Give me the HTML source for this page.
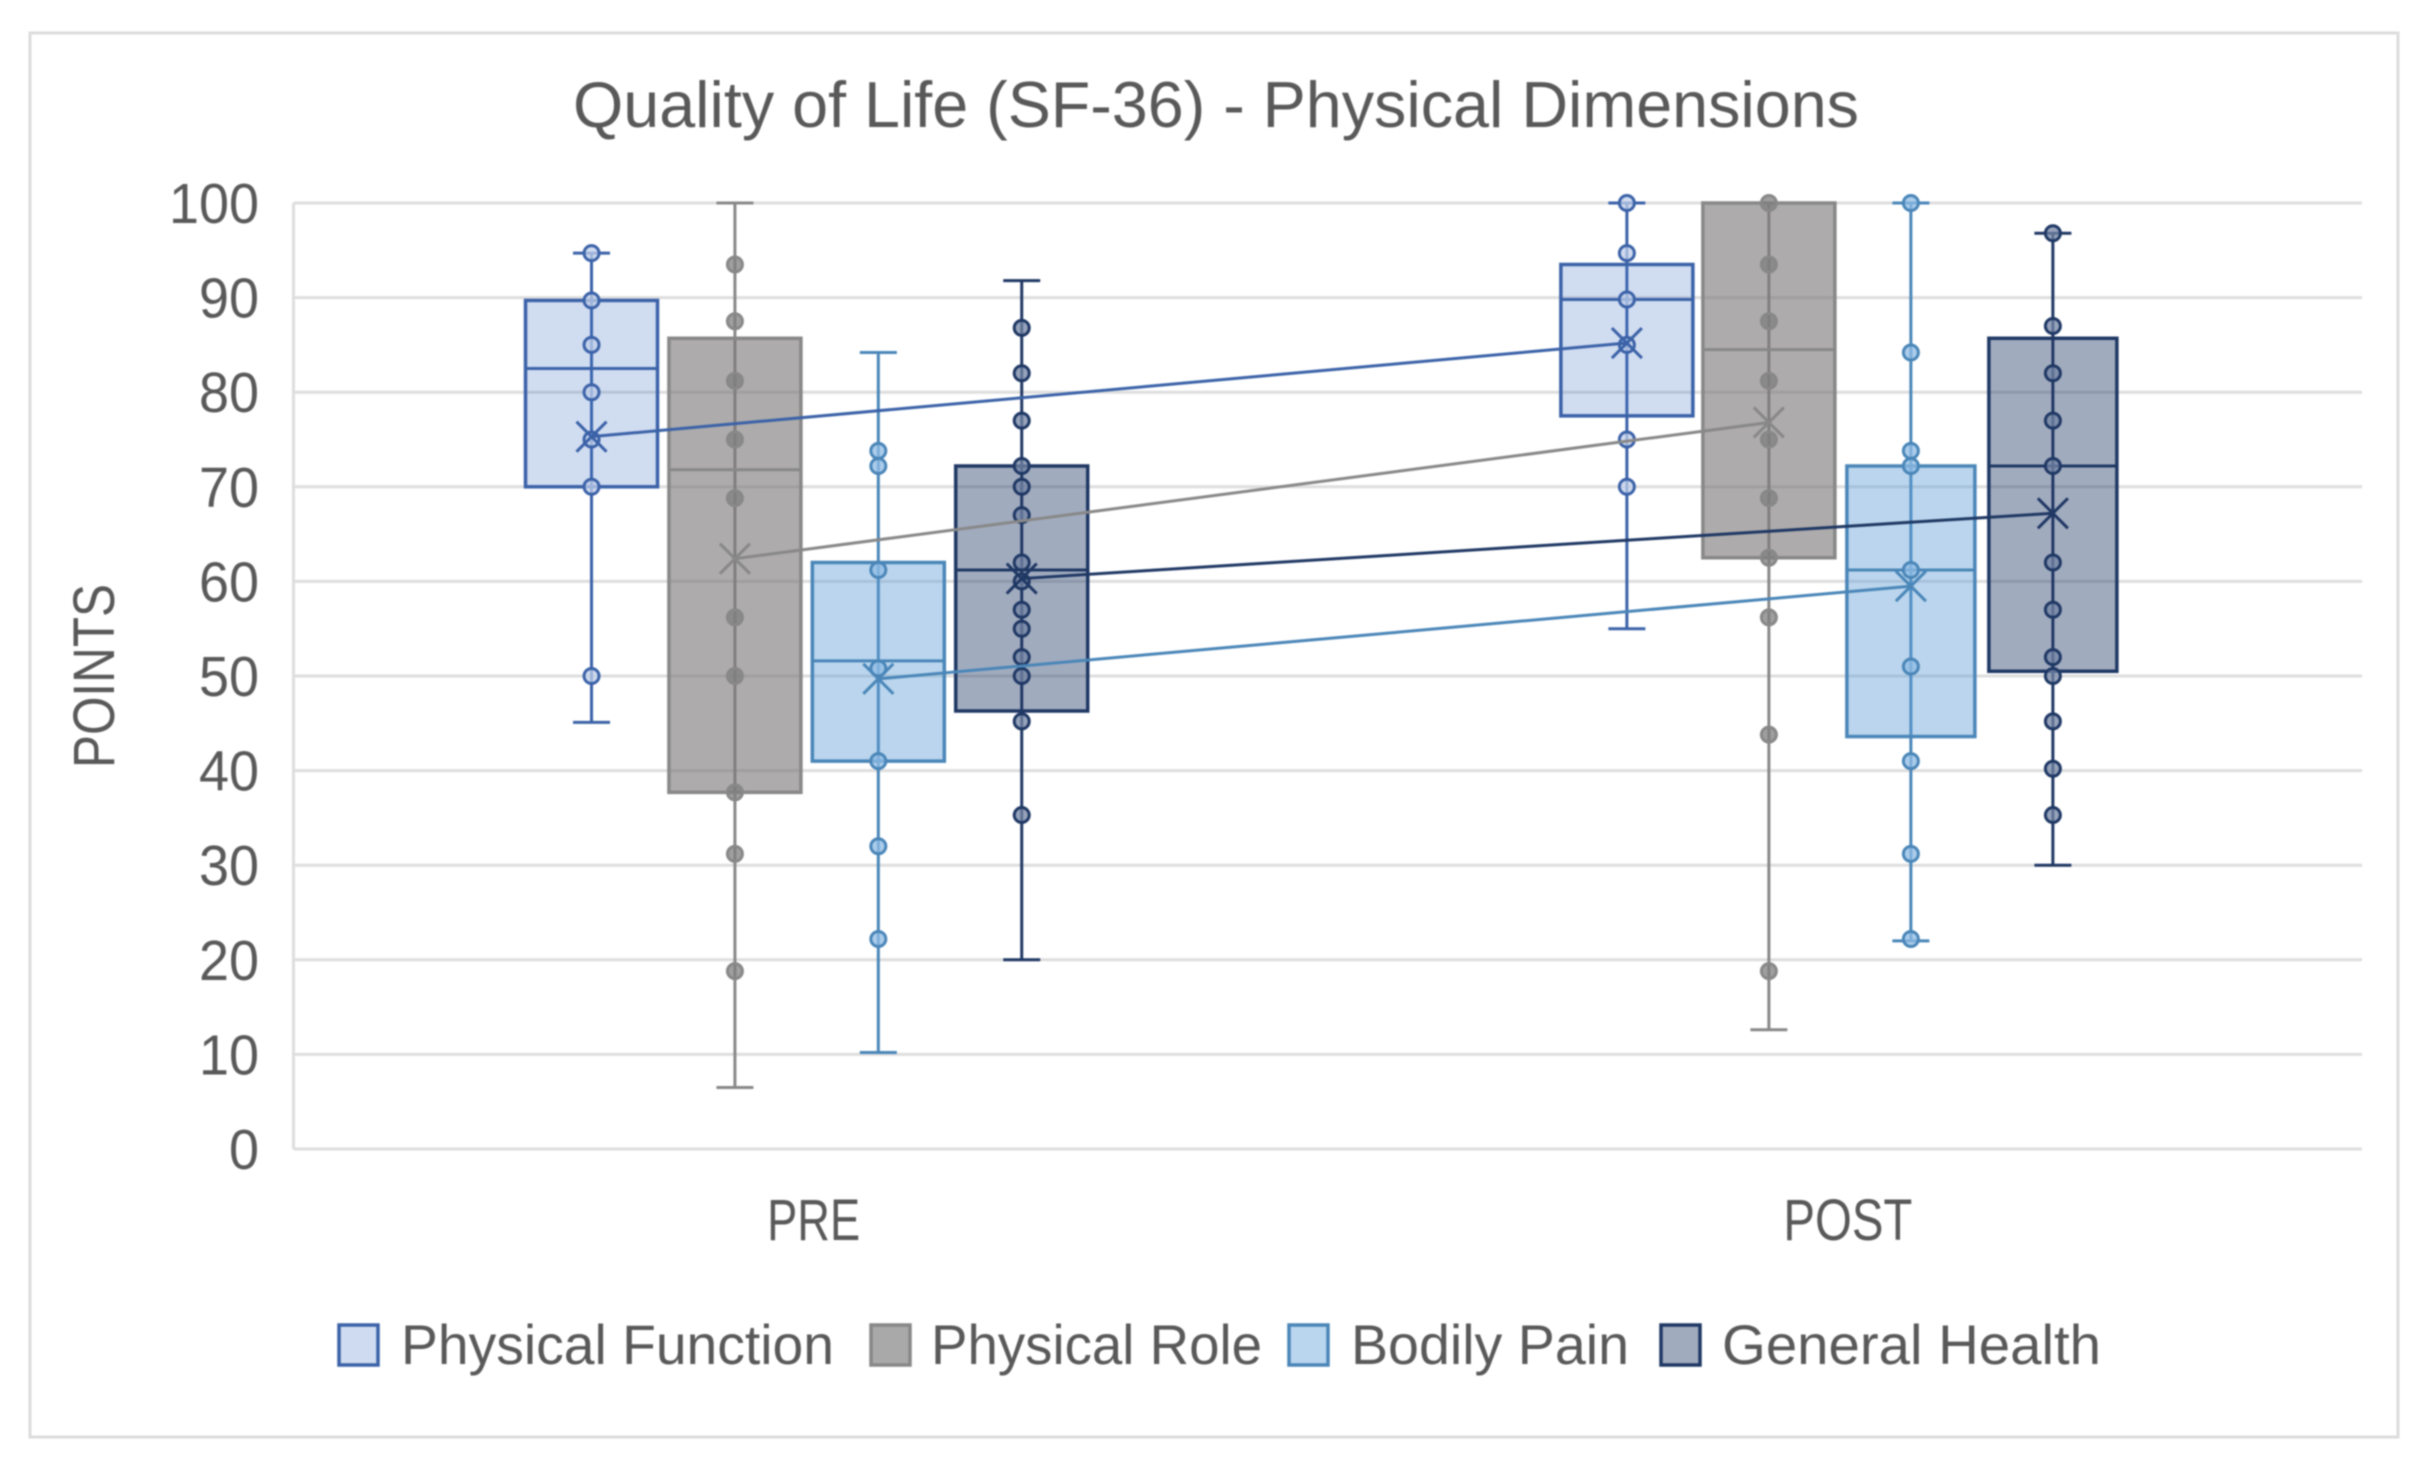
<!DOCTYPE html>
<html lang="en">
<head>
<meta charset="utf-8">
<title>Quality of Life (SF-36) - Physical Dimensions</title>
<style>
  html, body { margin: 0; padding: 0; background: #fff; }
  svg { display: block; filter: blur(0.8px); }
  text { font-family: "Liberation Sans", sans-serif; fill: #595959; }
</style>
</head>
<body>
<svg id="chart" xmlns="http://www.w3.org/2000/svg" width="2422" height="1467" viewBox="0 0 2422 1467">
  <rect x="0" y="0" width="2422" height="1467" fill="#ffffff"/>
  <rect x="30" y="33" width="2368" height="1404" fill="#ffffff" stroke="#dcdcdc" stroke-width="3"/>
  <text x="573" y="127" font-size="65" textLength="1286" lengthAdjust="spacingAndGlyphs">Quality of Life (SF-36) - Physical Dimensions</text>
  <text transform="translate(114 768) rotate(-90)" x="0" y="0" font-size="58" textLength="184" lengthAdjust="spacingAndGlyphs">POINTS</text>
  <g id="grid"></g>
  <g id="marks"></g>
  <g id="trend"></g>
  <g id="labels"></g>
  <g>
    <g>
      <rect x="339" y="1325" width="39" height="40" fill="#cfdbf0" stroke="#3b62a8" stroke-width="3.5"/>
      <text x="401" y="1364" font-size="56" textLength="433" lengthAdjust="spacingAndGlyphs">Physical Function</text>
    </g>
    <g>
      <rect x="871" y="1325" width="39" height="40" fill="#aaa9aa" stroke="#888888" stroke-width="3.5"/>
      <text x="931" y="1364" font-size="56" textLength="331" lengthAdjust="spacingAndGlyphs">Physical Role</text>
    </g>
    <g>
      <rect x="1289" y="1325" width="39" height="40" fill="#bad5ee" stroke="#4a86b8" stroke-width="3.5"/>
      <text x="1351" y="1364" font-size="56" textLength="278" lengthAdjust="spacingAndGlyphs">Bodily Pain</text>
    </g>
    <g>
      <rect x="1661" y="1325" width="39" height="40" fill="#a1abbe" stroke="#1f3864" stroke-width="3.5"/>
      <text x="1722" y="1364" font-size="56" textLength="379" lengthAdjust="spacingAndGlyphs">General Health</text>
    </g>
  </g>
</svg>
<script>
const categories = ['PRE', 'POST'];
const tickValues = [0, 10, 20, 30, 40, 50, 60, 70, 80, 90, 100];
const seriesKeys = ['physical-function', 'physical-role', 'bodily-pain', 'general-health'];

// Each row is one series: [PRE, POST]
const whiskerLow  = [[45.1, 55], [6.5, 12.6], [10.2, 22], [20, 30]];
const quartile1   = [[70, 77.5], [37.7, 62.5], [41, 43.6], [46.3, 50.5]];
const medians     = [[82.5, 89.8], [71.8, 84.5], [51.6, 61.2], [61.2, 72.2]];
const quartile3   = [[89.7, 93.5], [85.7, 100], [62, 72.2], [72.2, 85.7]];
const whiskerHigh = [[94.7, 100], [100, 100], [84.2, 100], [91.8, 96.8]];
const means       = [[75.3, 85.2], [62.4, 76.8], [49.7, 59.5], [60.3, 67.2]];

const physicalFunctionPoints = [[94.7, 89.7, 85, 80, 75, 70, 50], [100, 94.7, 89.8, 85, 75, 70]];
const physicalRolePoints = [[93.5, 87.5, 81.2, 75, 68.8, 56.2, 50, 37.7, 31.2, 18.8], [100, 93.5, 87.5, 81.2, 75, 68.8, 62.5, 56.2, 43.8, 18.8]];
const bodilyPainPoints = [[73.8, 72.2, 61.2, 50.8, 41, 32, 22.2], [100, 84.2, 73.8, 72.2, 61.2, 51, 41, 31.2, 22.2]];
const generalHealthPoints = [[86.8, 82, 77, 72.2, 70, 67, 62, 60, 57, 55, 52, 50, 45.2, 35.3], [96.8, 87, 82, 77, 72.2, 62, 57, 52, 50, 45.2, 40.2, 35.3]];

const strokeColors = ['#3b62a8', '#888888', '#4a86b8', '#1f3864'];
const fillColors = ['#4472c4', '#7a7878', '#5b9bd5', '#1f3864'];
const fillOpacities = [0.25, 0.62, 0.42, 0.42];
const pointFills = ['#c0cfea', '#7f7f7f', '#8fbbe4', '#7484a4'];

const NS = 'http://www.w3.org/2000/svg';
const plotLeft = 293.5, plotRight = 2362, plotTop = 203, plotBottom = 1149;
const yMax = 100, capWidth = 37;
const allPoints = [physicalFunctionPoints, physicalRolePoints, bodilyPainPoints, generalHealthPoints];

function yScale(v) { return plotBottom - (v / yMax) * (plotBottom - plotTop); }
function bandCenter(c) { return plotLeft + (c + 0.5) * (plotRight - plotLeft) / categories.length; }
function xScale(c, s) {
  const step = c === 0 ? 143.4 : 142;
  const shift = c === 0 ? -4 : -5;
  return bandCenter(c) + (s - (seriesKeys.length - 1) / 2) * step + shift;
}
function boxWidthFor(c, s) { return c === 1 && s >= 2 ? 128 : 132; }

function make(tag, parent, props) {
  const node = document.createElementNS(NS, tag);
  for (const k in props) node.setAttribute(k, props[k]);
  parent.appendChild(node);
  return node;
}

const grid = document.getElementById('grid');
const marks = document.getElementById('marks');
const trend = document.getElementById('trend');
const labels = document.getElementById('labels');

tickValues.forEach(function (t) {
  const line = make('line', grid, { x1: plotLeft, x2: plotRight, y1: yScale(t), y2: yScale(t), stroke: '#dedede', 'stroke-width': 3 });
  
  
  const label = make('text', labels, { x: 259, y: yScale(t) + 20, 'font-size': 57, 'text-anchor': 'end', textLength: 30 * String(t).length, lengthAdjust: 'spacingAndGlyphs' });
  label.textContent = String(t);
  
  
});

const yAxisLine = make('line', grid, { x1: plotLeft, x2: plotLeft, y1: plotTop, y2: plotBottom, stroke: '#dedede', 'stroke-width': 3 });



const categoryWidths = { PRE: 93, POST: 129 };
categories.forEach(function (name, c) {
  const label = make('text', labels, { x: bandCenter(c) + 3, y: 1240, 'font-size': 58, 'text-anchor': 'middle', textLength: categoryWidths[name], lengthAdjust: 'spacingAndGlyphs' });
  label.textContent = name;
  
  
});

seriesKeys.forEach(function (key, s) {
  const stroke = strokeColors[s];
  categories.forEach(function (catName, c) {
    const x = xScale(c, s);
    const boxWidth = boxWidthFor(c, s);
    const tag = key + '-' + catName.toLowerCase();

    const group = make('g', marks, {});
    
    

    const whisker = make('line', group, { x1: x, x2: x, y1: yScale(whiskerLow[s][c]), y2: yScale(whiskerHigh[s][c]), stroke: stroke, 'stroke-width': 3 });
    
    

    const capLow = make('line', group, { x1: x - capWidth / 2, x2: x + capWidth / 2, y1: yScale(whiskerLow[s][c]), y2: yScale(whiskerLow[s][c]), stroke: stroke, 'stroke-width': 3 });
    
    

    const capHigh = make('line', group, { x1: x - capWidth / 2, x2: x + capWidth / 2, y1: yScale(whiskerHigh[s][c]), y2: yScale(whiskerHigh[s][c]), stroke: stroke, 'stroke-width': 3 });
    
    

    const box = make('rect', group, { x: x - boxWidth / 2, y: yScale(quartile3[s][c]), width: boxWidth, height: yScale(quartile1[s][c]) - yScale(quartile3[s][c]) });
    box.setAttribute('fill', fillColors[s]);
    box.setAttribute('fill-opacity', fillOpacities[s]);
    box.setAttribute('stroke', stroke);
    box.setAttribute('stroke-width', 3.5);
    
    

    const median = make('line', group, { x1: x - boxWidth / 2, x2: x + boxWidth / 2, y1: yScale(medians[s][c]), y2: yScale(medians[s][c]), stroke: stroke, 'stroke-width': 3 });
    
    

    allPoints[s][c].forEach(function (v, i) {
      const dot = make('circle', group, { cx: x, cy: yScale(v), r: 7.5, fill: pointFills[s], 'fill-opacity': 0.75, stroke: stroke, 'stroke-width': 3 });
      
      
    });
  });
});

seriesKeys.forEach(function (key, s) {
  const stroke = strokeColors[s];
  const pts = categories.map(function (n, c) { return xScale(c, s) + ',' + yScale(means[s][c]); }).join(' ');
  const line = make('polyline', trend, { points: pts, fill: 'none', stroke: stroke, 'stroke-width': 3 });
  
  

  categories.forEach(function (catName, c) {
    const x = xScale(c, s), y = yScale(means[s][c]), h = 15;
    const cross = make('path', trend, { d: 'M' + (x - h) + ' ' + (y - h) + 'L' + (x + h) + ' ' + (y + h) + 'M' + (x + h) + ' ' + (y - h) + 'L' + (x - h) + ' ' + (y + h), fill: 'none', stroke: stroke, 'stroke-width': 3 });
    
    
  });
});
</script>
</body>
</html>
